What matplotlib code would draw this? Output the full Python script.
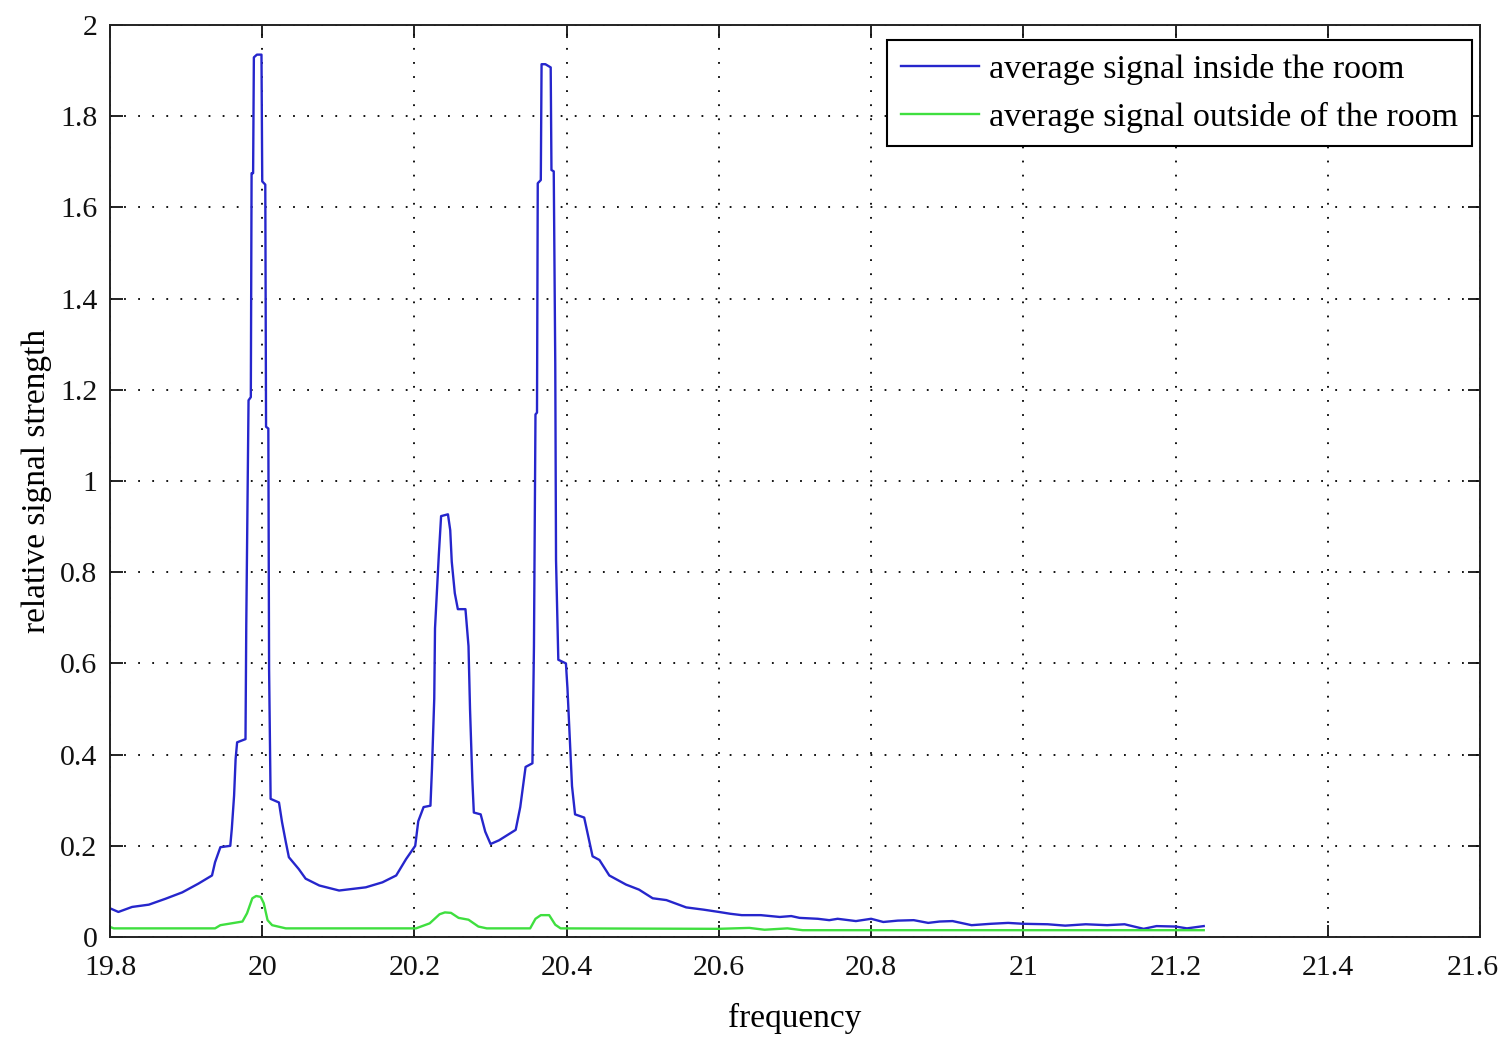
import matplotlib
matplotlib.use("Agg")
import matplotlib.pyplot as plt
from matplotlib.ticker import FuncFormatter, MultipleLocator

freq_in = [19.800, 19.811, 19.829, 19.851, 19.873, 19.895, 19.916, 19.934, 19.938, 19.945,
           19.958, 19.960, 19.963, 19.965, 19.967, 19.978, 19.979, 19.982, 19.985, 19.986,
           19.988, 19.989, 19.993, 19.999, 20.000, 20.004, 20.005, 20.008, 20.009, 20.011,
           20.022, 20.026, 20.031, 20.035, 20.048, 20.057, 20.075, 20.101, 20.136, 20.158,
           20.176, 20.189, 20.201, 20.205, 20.212, 20.221, 20.223, 20.226, 20.227, 20.232,
           20.235, 20.244, 20.247, 20.249, 20.253, 20.257, 20.267, 20.271, 20.273, 20.276,
           20.278, 20.287, 20.293, 20.300, 20.311, 20.333, 20.339, 20.346, 20.355, 20.357,
           20.359, 20.361, 20.362, 20.366, 20.367, 20.372, 20.379, 20.380, 20.383, 20.385,
           20.386, 20.389, 20.399, 20.401, 20.404, 20.407, 20.411, 20.423, 20.427, 20.434,
           20.443, 20.456, 20.478, 20.495, 20.513, 20.531, 20.557, 20.580, 20.600, 20.615,
           20.630, 20.655, 20.680, 20.695, 20.706, 20.730, 20.745, 20.756, 20.780, 20.800,
           20.816, 20.835, 20.856, 20.875, 20.890, 20.907, 20.932, 20.957, 20.980, 21.000,
           21.032, 21.055, 21.082, 21.110, 21.133, 21.158, 21.175, 21.200, 21.215, 21.237]
sig_in = [0.063, 0.055, 0.066, 0.071, 0.084, 0.098, 0.117, 0.135, 0.164, 0.197,
          0.200, 0.237, 0.310, 0.390, 0.427, 0.434, 0.682, 1.177, 1.184, 1.675,
          1.675, 1.929, 1.935, 1.935, 1.657, 1.650, 1.119, 1.115, 0.587, 0.303,
          0.295, 0.252, 0.208, 0.175, 0.149, 0.128, 0.113, 0.102, 0.109, 0.120,
          0.135, 0.171, 0.200, 0.254, 0.285, 0.288, 0.369, 0.523, 0.677, 0.838,
          0.923, 0.927, 0.892, 0.823, 0.754, 0.719, 0.719, 0.638, 0.500, 0.346,
          0.273, 0.269, 0.231, 0.204, 0.212, 0.235, 0.285, 0.373, 0.381, 0.638,
          1.146, 1.150, 1.653, 1.660, 1.914, 1.914, 1.907, 1.682, 1.679, 1.256,
          0.827, 0.608, 0.600, 0.546, 0.438, 0.331, 0.269, 0.262, 0.231, 0.177,
          0.169, 0.135, 0.115, 0.104, 0.085, 0.081, 0.065, 0.060, 0.055, 0.051,
          0.048, 0.048, 0.044, 0.046, 0.042, 0.040, 0.037, 0.040, 0.035, 0.040,
          0.033, 0.036, 0.037, 0.031, 0.034, 0.035, 0.026, 0.029, 0.031, 0.029,
          0.028, 0.025, 0.028, 0.026, 0.028, 0.018, 0.024, 0.023, 0.019, 0.024]

freq_out = [19.800, 19.805, 19.938, 19.945, 19.974, 19.980, 19.987, 19.992, 19.998, 20.002,
            20.007, 20.013, 20.031, 20.202, 20.220, 20.233, 20.240, 20.248, 20.258, 20.271,
            20.284, 20.295, 20.352, 20.359, 20.366, 20.377, 20.385, 20.392, 20.600, 20.640,
            20.660, 20.690, 20.710, 21.237]
sig_out = [0.022, 0.019, 0.019, 0.026, 0.034, 0.052, 0.085, 0.090, 0.088, 0.074,
           0.037, 0.026, 0.019, 0.019, 0.030, 0.050, 0.054, 0.053, 0.042, 0.038,
           0.023, 0.019, 0.019, 0.040, 0.048, 0.048, 0.027, 0.019, 0.018, 0.020,
           0.016, 0.019, 0.015, 0.015]

labels = ["average signal inside the room", "average signal outside of the room"]
x_max = 21.6

plt.rcParams['font.family'] = ['Liberation Serif', 'DejaVu Serif']

fig = plt.figure(figsize=(15.03, 10.37), dpi=100)
ax = fig.add_axes([0.0732, 0.0964, 0.9115, 0.8795])

ax.plot(freq_in, sig_in, color='#2626cc', lw=1.7, label=labels[0])
ax.plot(freq_out, sig_out, color='#3fdf3f', lw=1.7, label=labels[1])

ax.set_xlim(19.8, x_max)
ax.set_ylim(0, 2)
ax.xaxis.set_major_locator(MultipleLocator(0.2))
ax.yaxis.set_major_locator(MultipleLocator(0.2))
# last x label is drawn separately, nudged left so it fits the canvas
ax.xaxis.set_major_formatter(FuncFormatter(
    lambda v, p: '' if abs(v - x_max) < 1e-6 else '%g' % round(v, 2)))
ax.yaxis.set_major_formatter(FuncFormatter(lambda v, p: '%g' % round(v, 2)))

ax.grid(True, color='black', linestyle=(0, (1, 6.8)), linewidth=1.3)
ax.tick_params(direction='in', length=9, width=1.3, top=True, right=True,
               labelsize=21.5, colors='#111111')
ax.tick_params(axis='x', pad=13)
ax.tick_params(axis='y', pad=9)
for s in ax.spines.values():
    s.set_linewidth(1.4)
    s.set_color('#222222')

ax.annotate('%g' % x_max, xy=(x_max, 0), xycoords='data', xytext=(-5, -13),
            textcoords='offset points', ha='center', va='top', fontsize=21.5,
            color='#111111', annotation_clip=False)

ax.set_xlabel('frequency', fontsize=24, labelpad=16)
ax.set_ylabel('relative signal strength', fontsize=24, labelpad=6)

leg = ax.legend(loc='upper right', bbox_to_anchor=(0.9942, 0.9836), borderaxespad=0,
                fontsize=24.5, fancybox=False, framealpha=1, edgecolor='black',
                handlelength=2.3, handletextpad=0.3, borderpad=0.4, labelspacing=0.5)
leg.get_frame().set_linewidth(1.5)

fig.savefig('out.png', dpi=100)
